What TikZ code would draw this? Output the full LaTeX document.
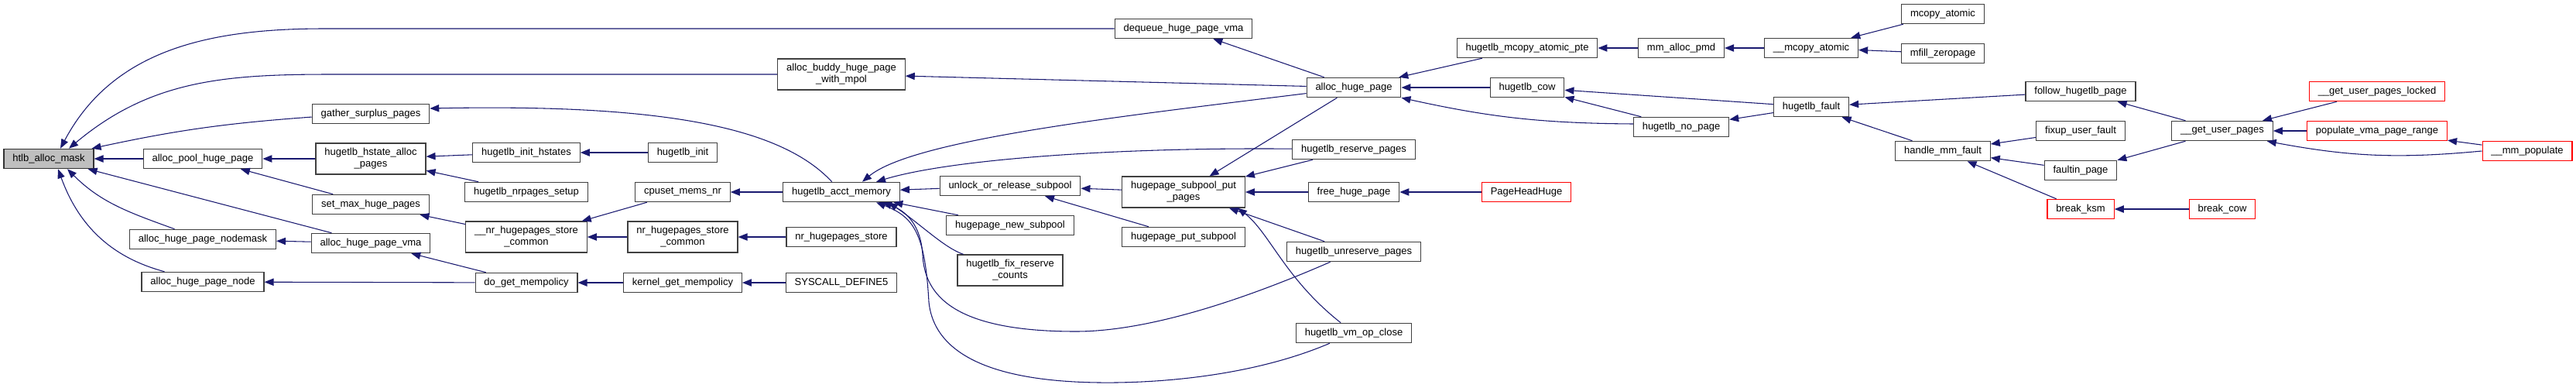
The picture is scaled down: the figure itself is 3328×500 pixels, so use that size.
\documentclass[tikz,border=0pt]{standalone}
\usepackage{fontspec}
\setmainfont{Liberation Sans}
\usetikzlibrary{arrows.meta,calc}
\definecolor{edgeblue}{HTML}{191970}
\definecolor{rootgray}{HTML}{BFBFBF}
\begin{document}
\begin{tikzpicture}[
  x=0.75pt, y=-0.75pt,
  every node/.style={draw=black!75, line width=0.9pt, fill=white,
    minimum height=19pt, inner xsep=8.5pt, inner ysep=1pt, align=center,
    font=\fontsize{9.75}{11.25}\selectfont},
  two/.style={minimum height=30pt},
  root/.style={fill=rootgray, draw=black!80},
  cut/.style={draw=red},
  call/.style={draw=edgeblue, line width=0.8pt,
    -{Triangle[length=9pt,width=7pt]}}
]
\useasboundingbox (0,0) rectangle (3328,500);
\node[root] (mask) at (63,205) {htlb\_alloc\_mask};
\node (dequeue) at (1529,37) {dequeue\_huge\_page\_vma};
\node[two] (buddy) at (1087,96) {alloc\_buddy\_huge\_page\\\_with\_mpol};
\node (gather) at (479,147) {gather\_surplus\_pages};
\node (pool) at (262,205) {alloc\_pool\_huge\_page};
\node[two] (hstate) at (479,205) {hugetlb\_hstate\_alloc\\\_pages};
\node (setmax) at (479,264) {set\_max\_huge\_pages};
\node (nodemask) at (262,309) {alloc\_huge\_page\_nodemask};
\node (vma) at (479,314) {alloc\_huge\_page\_vma};
\node (pnode) at (262,364) {alloc\_huge\_page\_node};
\node (inithst) at (680,197) {hugetlb\_init\_hstates};
\node (nrsetup) at (680,248) {hugetlb\_nrpages\_setup};
\node[two] (nrcommon) at (680,306) {\_\_nr\_hugepages\_store\\\_common};
\node (getpol) at (680,365) {do\_get\_mempolicy};
\node (init) at (882,197) {hugetlb\_init};
\node (cpuset) at (882,248) {cpuset\_mems\_nr};
\node[two] (nrstorec) at (882,306) {nr\_hugepages\_store\\\_common};
\node (kernpol) at (882,365) {kernel\_get\_mempolicy};
\node (acct) at (1087,248) {hugetlb\_acct\_memory};
\node (nrstore) at (1087,306) {nr\_hugepages\_store};
\node (syscall) at (1087,365) {SYSCALL\_DEFINE5};
\node (unlock) at (1305,240) {unlock\_or\_release\_subpool};
\node (newpool) at (1305,291) {hugepage\_new\_subpool};
\node[two] (fixres) at (1305,349) {hugetlb\_fix\_reserve\\\_counts};
\node[two] (putpages) at (1529,248) {hugepage\_subpool\_put\\\_pages};
\node (putpool) at (1529,306) {hugepage\_put\_subpool};
\node (allocpg) at (1749,113) {alloc\_huge\_page};
\node (reserve) at (1749,193) {hugetlb\_reserve\_pages};
\node (freepg) at (1749,248) {free\_huge\_page};
\node (unreserve) at (1749,325) {hugetlb\_unreserve\_pages};
\node (vmclose) at (1749,430) {hugetlb\_vm\_op\_close};
\node (mcopypte) at (1973,62) {hugetlb\_mcopy\_atomic\_pte};
\node (cow) at (1973,113) {hugetlb\_cow};
\node[cut] (headhuge) at (1972,248) {PageHeadHuge};
\node (pmd) at (2172,62) {mm\_alloc\_pmd};
\node (nopage) at (2172,164) {hugetlb\_no\_page};
\node (mcopyint) at (2340,62) {\_\_mcopy\_atomic};
\node (fault) at (2340,138) {hugetlb\_fault};
\node (mcopy) at (2510,18) {mcopy\_atomic};
\node (zeropg) at (2510,69) {mfill\_zeropage};
\node (handle) at (2510,195) {handle\_mm\_fault};
\node (follow) at (2688,118) {follow\_hugetlb\_page};
\node (fixup) at (2688,169) {fixup\_user\_fault};
\node (faultin) at (2688,220) {faultin\_page};
\node[cut] (ksm) at (2688,270) {break\_ksm};
\node (gup) at (2871,169) {\_\_get\_user\_pages};
\node[cut] (breakcow) at (2871,270) {break\_cow};
\node[cut] (guplock) at (3071,118) {\_\_get\_user\_pages\_locked};
\node[cut] (populate) at (3071,169) {populate\_vma\_page\_range};
\node[cut] (mmpop) at (3265,195) {\_\_mm\_populate};

\draw[call] (dequeue) -- (420,37) to[out=180,in=62] ($(mask.north)+(15,0)$);
\draw[call] (buddy) -- (430,96) to[out=180,in=40] ($(mask.north)+(26,0)$);
\draw[call] (gather) to[bend right=4] ($(mask.north east)+(-3,0)$);
\draw[call] (pool) -- (mask);
\draw[call] (vma) -- (mask);
\draw[call] (nodemask) to[out=160,in=-45] ($(mask.south)+(24,0)$);
\draw[call] (pnode) to[out=165,in=-70] ($(mask.south)+(12,0)$);
\draw[call] (hstate) -- (pool);
\draw[call] (setmax) -- (pool);
\draw[call] (vma) -- (nodemask);
\draw[call] (getpol) -- (pnode);
\draw[call] (getpol) -- (vma);
\draw[call] (inithst) -- (hstate);
\draw[call] (nrsetup) -- (hstate);
\draw[call] (nrcommon) -- (setmax);
\draw[call] (init) -- (inithst);
\draw[call] (cpuset) -- (nrcommon);
\draw[call] (nrstorec) -- (nrcommon);
\draw[call] (kernpol) -- (getpol);
\draw[call] (acct) -- (cpuset);
\draw[call] (nrstore) -- (nrstorec);
\draw[call] (syscall) -- (kernpol);
\draw[call] (acct) .. controls (1010,165) and (860,134) .. ($(gather.east)+(0,-7)$);
\draw[call] (allocpg) -- (buddy);
\draw[call] (allocpg) -- (dequeue);
\draw[call] (allocpg) .. controls (1450,150) and (1180,180) .. ($(acct.north)+(27,0)$);
\draw[call] (reserve) .. controls (1450,190) and (1230,205) .. ($(acct.north)+(45,0)$);
\draw[call] (unlock) -- (acct);
\draw[call] (newpool) -- (acct);
\draw[call] (fixres) .. controls (1220,320) and (1190,290) .. ($(acct.south east)+(-15,0)$);
\draw[call] (unreserve) .. controls (1600,390) and (1480,428) .. (1390,428)
  .. controls (1230,428) and (1195,380) .. (1192,330)
  .. controls (1190,290) and (1170,272) .. ($(acct.south)+(53,0)$);
\draw[call] (vmclose) .. controls (1620,485) and (1500,495) .. (1420,494)
  .. controls (1250,492) and (1205,440) .. (1200,390)
  .. controls (1195,300) and (1180,280) .. ($(acct.south)+(45,0)$);
\draw[call] (putpages) -- (unlock);
\draw[call] (putpool) -- (unlock);
\draw[call] (allocpg) -- (putpages);
\draw[call] (reserve) -- (putpages);
\draw[call] (freepg) -- (putpages);
\draw[call] (unreserve) -- (putpages);
\draw[call] (vmclose) .. controls (1660,360) and (1640,300) .. ($(putpages.south east)+(-10,0)$);
\draw[call] (headhuge) -- (freepg);
\draw[call] (mcopypte) -- (allocpg);
\draw[call] (cow) -- (allocpg);
\draw[call] ($(nopage.west)+(0,-4)$) to[bend left=6] (allocpg.south east);
\draw[call] (pmd) -- (mcopypte);
\draw[call] (mcopyint) -- (pmd);
\draw[call] (mcopy) -- (mcopyint);
\draw[call] (zeropg) -- (mcopyint);
\draw[call] (fault) -- (cow);
\draw[call] (nopage) -- (cow);
\draw[call] (fault) -- (nopage);
\draw[call] (follow) -- (fault);
\draw[call] (handle) -- (fault);
\draw[call] (fixup) -- (handle);
\draw[call] (faultin) -- (handle);
\draw[call] (ksm) -- (handle);
\draw[call] (gup) -- (follow);
\draw[call] (gup) -- (faultin);
\draw[call] (breakcow) -- (ksm);
\draw[call] (guplock) -- (gup);
\draw[call] (populate) -- (gup);
\draw[call] (mmpop.west) to[bend left=8] ($(gup.south east)+(-8,0)$);
\draw[call] (mmpop) -- (populate);
\end{tikzpicture}
\end{document}
